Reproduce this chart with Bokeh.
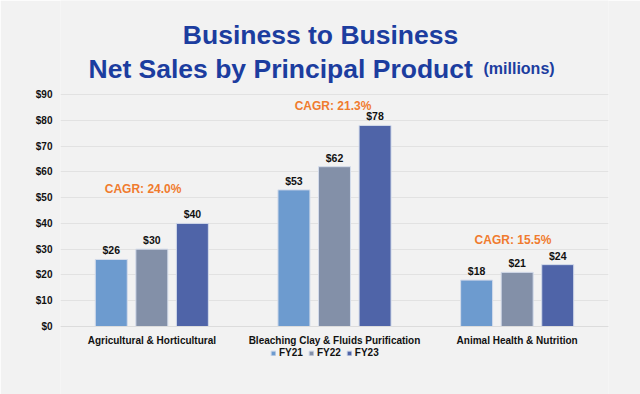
from bokeh.plotting import figure
from bokeh.models import (FactorRange, Range1d, ColumnDataSource, LabelSet, Label,
                          Legend, LegendItem, FixedTicker, PrintfTickFormatter)
from bokeh.core.properties import value
from bokeh.transform import dodge
from bokeh.embed import file_html
from bokeh.resources import INLINE

# ---- data ----
categories = ["Agricultural & Horticultural",
              "Bleaching Clay & Fluids Purification",
              "Animal Health & Nutrition"]
fy21 = [26, 53, 18]
fy22 = [30, 62, 21]
fy23 = [40, 78, 24]
series_names = ["FY21", "FY22", "FY23"]
cagr_labels = ["CAGR: 24.0%", "CAGR: 21.3%", "CAGR: 15.5%"]
y_ticks = [0, 10, 20, 30, 40, 50, 60, 70, 80, 90]

# ---- style ----
BG = "#f2f2f2"
colors = ["#6d9bcf", "#8390a8", "#4f64a8"]
TITLE_BLUE = "#1c3d9f"
ORANGE = "#f07b2e"
FONT = "Liberation Sans"

# the frame spans the whole height; title, axis labels and legend all live in it
p = figure(x_range=FactorRange(*categories, range_padding=0),
           y_range=Range1d(-26.38, 126.47),
           width=640, height=394, output_backend="svg", toolbar_location=None,
           min_border_left=60, min_border_right=32, min_border_top=0, min_border_bottom=0)
p.title.visible = False
p.background_fill_color = BG
p.border_fill_color = BG
p.outline_line_color = None

src = ColumnDataSource(dict(cat=categories, fy21=fy21, fy22=fy22, fy23=fy23,
                            l21=["$%d" % v for v in fy21],
                            l22=["$%d" % v for v in fy22],
                            l23=["$%d" % v for v in fy23]))

offsets = [-0.222, 0.0, 0.222]
cols = ["fy21", "fy22", "fy23"]
lcols = ["l21", "l22", "l23"]
renderers = []
for off, col, lc, c in zip(offsets, cols, lcols, colors):
    r = p.vbar(x=dodge("cat", off, range=p.x_range), top=col, width=0.175, source=src,
               fill_color=c, line_color="#d3dbea", line_width=1)
    renderers.append(r)
    labels = LabelSet(x=dodge("cat", off, range=p.x_range), y=col, text=lc, source=src,
                      text_align="center", text_baseline="bottom", y_offset=3,
                      text_font=value(FONT), text_font_style="bold", text_font_size="10.5px",
                      text_color="#111111")
    p.add_layout(labels)

# CAGR annotations
cagr_x = [0.452, 1.492, 2.477]
cagr_y = [53.5, 85.7, 33.7]
for cx, cy, t in zip(cagr_x, cagr_y, cagr_labels):
    p.add_layout(Label(x=cx, y=cy, text=t, text_align="center", text_baseline="middle",
                       text_font=FONT, text_font_style="bold", text_font_size="12px",
                       text_color=ORANGE))

# Title
p.add_layout(Label(x=1.4234, y=112.9, text="Business to Business", text_align="center",
                   text_baseline="alphabetic", text_font=FONT, text_font_style="bold",
                   text_font_size="26.5px", text_color=TITLE_BLUE))
p.add_layout(Label(x=0.1533, y=100.08, text="Net Sales by Principal Product", text_align="left",
                   text_baseline="alphabetic", text_font=FONT, text_font_style="bold",
                   text_font_size="26.5px", text_color=TITLE_BLUE))
p.add_layout(Label(x=2.3157, y=100.08, text="(millions)", text_align="left",
                   text_baseline="alphabetic", text_font=FONT, text_font_style="bold",
                   text_font_size="16px", text_color=TITLE_BLUE))

# Axes
p.yaxis.ticker = FixedTicker(ticks=y_ticks)
p.yaxis.formatter = PrintfTickFormatter(format="$%d")
p.yaxis.axis_line_color = None
p.yaxis.major_tick_line_color = None
p.yaxis.minor_tick_line_color = None
p.yaxis.major_tick_in = 0
p.yaxis.major_tick_out = 0
p.yaxis.major_label_standoff = 8
p.yaxis.major_label_text_font = FONT
p.yaxis.major_label_text_font_style = "bold"
p.yaxis.major_label_text_font_size = "10px"
p.yaxis.major_label_text_color = "#111111"

p.xaxis.fixed_location = 0
p.xaxis.axis_line_color = "#dcdcdc"
p.xaxis.major_tick_line_color = None
p.xaxis.minor_tick_line_color = None
p.xaxis.major_tick_in = 0
p.xaxis.major_tick_out = 0
p.xaxis.major_label_standoff = 8
p.xaxis.major_label_text_font = FONT
p.xaxis.major_label_text_font_style = "bold"
p.xaxis.major_label_text_font_size = "10px"
p.xaxis.major_label_text_color = "#111111"

p.xgrid.grid_line_color = None
p.ygrid.grid_line_color = "#e2e2e2"
p.ygrid.grid_line_width = 1

legend = Legend(items=[LegendItem(label=n, renderers=[r]) for n, r in zip(series_names, renderers)],
                orientation="horizontal", location=(210, 36),
                glyph_width=6, glyph_height=6, label_height=10, label_standoff=3, spacing=5,
                padding=0, margin=0, border_line_color=None, background_fill_alpha=0,
                label_text_font=FONT, label_text_font_style="bold", label_text_font_size="10px",
                label_text_color="#111111")
p.add_layout(legend, "center")

open("out.html", "w").write(file_html(p, INLINE))
